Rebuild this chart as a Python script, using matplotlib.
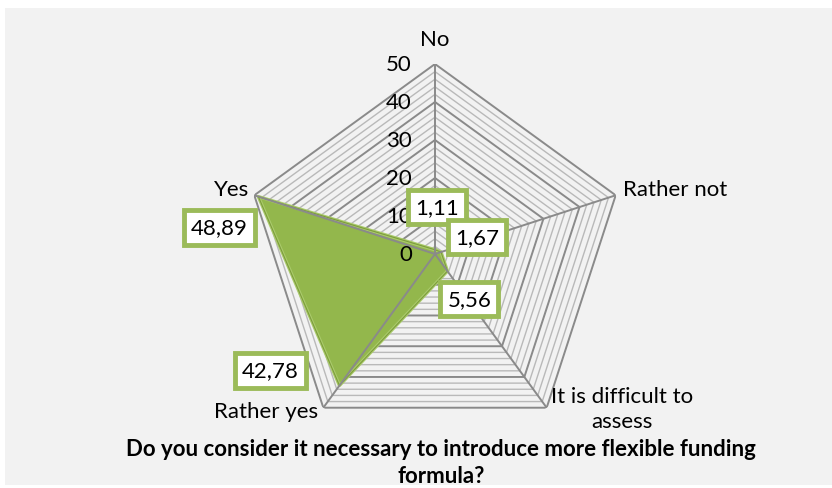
import numpy as np
import matplotlib
matplotlib.use("Agg")
import matplotlib.pyplot as plt
from matplotlib.patches import Rectangle

# Survey answers (share of respondents, %)
categories = ["No", "Rather not", "It is difficult to\nassess", "Rather yes", "Yes"]
values = [1.11, 1.67, 5.56, 42.78, 48.89]
value_labels = ["1,11", "1,67", "5,56", "42,78", "48,89"]
tick_values = [0, 10, 20, 30, 40, 50]
title = "Do you consider it necessary to introduce more flexible funding\nformula?"

FONT = "Lato"
plt.rcParams["font.family"] = [FONT, "DejaVu Sans"]

W, H = 832, 489
fig = plt.figure(figsize=(W / 100, H / 100), dpi=100)
fig.patch.set_facecolor("white")
# grey chart panel
fig.add_artist(Rectangle((5 / W, 3 / H), (W - 5) / W, (H - 12) / H,
                         transform=fig.transFigure, facecolor="#f2f2f2",
                         edgecolor="none", zorder=0))

cx, cy, R = 435, 255, 190
ax = fig.add_axes([(cx - R) / W, (H - cy - R) / H, 2 * R / W, 2 * R / H],
                  projection="polar")
ax.set_facecolor("none")
ax.set_theta_offset(np.pi / 2)
ax.set_theta_direction(-1)
ax.set_ylim(0, 50)
ax.grid(False)
ax.spines["polar"].set_visible(False)
ax.set_xticks([])
ax.set_yticks([])

n = len(categories)
theta = np.linspace(0, 2 * np.pi, n, endpoint=False)
theta_c = np.append(theta, theta[0])

# polygon grid: minor every 2, major every 10
for r in range(2, 51, 2):
    major = r % 10 == 0
    ax.plot(theta_c, [r] * (n + 1),
            color="#8a8a8a" if major else "#b9b9b9",
            lw=1.4 if major else 1.0, zorder=2 if major else 1)

# data series
vals_c = np.append(values, values[0])
ax.fill(theta_c, vals_c, color="#93b74c", zorder=3)
ax.plot(theta_c, vals_c, color="#aacb6b", lw=2.4, zorder=3.5)
ax.plot(theta_c, vals_c, color="#7d9c3c", lw=0.8, zorder=3.6)

# spokes
for t in theta:
    ax.plot([t, t], [0, 50], color="#8a8a8a", lw=1.4, zorder=4)

# radial tick labels
for v in tick_values:
    ax.annotate(str(v), (0, v), xytext=(-23, 0), textcoords="offset pixels",
                ha="right", va="center", fontsize=16, color="#000000",
                zorder=5)

# category labels
cat_offsets = [(0, 25), (7, 6), (4, -1), (-5, -3), (-5, 6)]
cat_ha = ["center", "left", "left", "right", "right"]
for t, lab, off, ha in zip(theta, categories, cat_offsets, cat_ha):
    ax.annotate(lab, (t, 50), xytext=off, textcoords="offset pixels",
                ha=ha, va="center", fontsize=16, multialignment="center",
                linespacing=1.3, annotation_clip=False, zorder=5)

# value labels in framed boxes
lab_offsets = [(2, 43), (36, 15), (22, -28), (-69, 15), (-39, -31)]
for t, v, lab, off in zip(theta, values, value_labels, lab_offsets):
    ax.annotate(lab, (t, v), xytext=off, textcoords="offset pixels",
                ha="center", va="center", fontsize=16,
                bbox=dict(boxstyle="square,pad=0.32", facecolor="white",
                          edgecolor="#9bbb59", linewidth=3.5),
                annotation_clip=False, zorder=6)

fig.text(441 / W, 1 - 463 / H, title, ha="center", va="center",
         fontsize=16, fontweight="bold", linespacing=1.35)

fig.savefig("out.png", dpi=100, facecolor=fig.get_facecolor())
